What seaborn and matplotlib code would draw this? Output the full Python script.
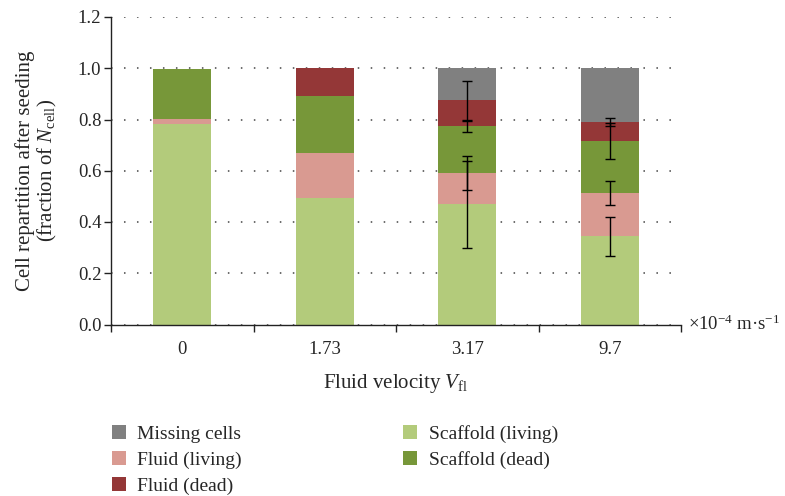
import numpy as np
import pandas as pd
import matplotlib
matplotlib.use("Agg")
import matplotlib.pyplot as plt
import seaborn as sns
from matplotlib.patches import Patch

sns.set_style("white")
plt.rcParams['font.family'] = ['Liberation Serif', 'DejaVu Serif']
plt.rcParams['mathtext.fontset'] = 'custom'
plt.rcParams['mathtext.rm'] = 'Liberation Serif'
plt.rcParams['mathtext.it'] = 'Liberation Serif:italic'

# data
velocity = ['0', '1.73', '3.17', '9.7']
scaffold_living = [0.782, 0.493, 0.469, 0.345]
fluid_living = [0.020, 0.176, 0.122, 0.168]
scaffold_dead = [0.196, 0.223, 0.183, 0.203]
fluid_dead = [0.0, 0.108, 0.101, 0.075]
missing = [0.0, 0.0, 0.125, 0.209]
# error bars (only 3.17 and 9.7), one per stacked segment top
err_scaffold_living = [0, 0, 0.170, 0.076]
err_fluid_living = [0, 0, 0.065, 0.048]
err_scaffold_dead = [0, 0, 0.022, 0.070]
err_fluid_dead = [0, 0, 0.075, 0.015]

layers = ['Scaffold (living)', 'Fluid (living)', 'Scaffold (dead)', 'Fluid (dead)', 'Missing cells']
colors = {'Scaffold (living)': '#b3cb7b', 'Fluid (living)': '#d99a91',
          'Scaffold (dead)': '#779739', 'Fluid (dead)': '#943737',
          'Missing cells': '#808080'}

df = pd.DataFrame({'v': velocity, 'Scaffold (living)': scaffold_living,
                   'Fluid (living)': fluid_living, 'Scaffold (dead)': scaffold_dead,
                   'Fluid (dead)': fluid_dead, 'Missing cells': missing})
cum = df[layers].cumsum(axis=1)
cum['v'] = df['v']

fig = plt.figure(figsize=(7.85, 4.96), dpi=100)
ax = fig.add_axes([111/785, 1-324.5/496, 570/785, 307.5/496])

# draw cumulative bars from the top layer down so they stack
for name in layers[::-1]:
    sns.barplot(data=cum, x='v', y=name, color=colors[name], width=0.41,
                saturation=1, linewidth=0, ax=ax, zorder=2)

errs = [err_scaffold_living, err_fluid_living, err_scaffold_dead, err_fluid_dead]
for name, e in zip(layers[:4], errs):
    e = np.array(e)
    m = e > 0
    x = np.arange(len(velocity))[m]
    ax.errorbar(x, cum[name].values[m], yerr=e[m], fmt='none', ecolor='black',
                elinewidth=1.0, capsize=3.3, capthick=1.0, zorder=5)

ax.set_ylim(0, 1.2)
ax.set_xlim(-0.5, 3.5)
ax.set_yticks(np.arange(0, 1.21, 0.2))
ax.set_yticklabels([f'{t:.1f}' for t in np.arange(0, 1.21, 0.2)])
ax.set_xticks([-0.5, 0.5, 1.5, 2.5, 3.5])
ax.set_xticklabels([])
ax.set_xticks(range(len(velocity)), minor=True)
ax.set_xticklabels(velocity, minor=True)
ax.tick_params(axis='x', which='major', direction='out', length=5, width=1, color='#222222', bottom=True)
ax.tick_params(axis='x', which='minor', length=0, pad=12, labelsize=13.5)
ax.tick_params(axis='y', direction='out', length=5, width=1, color='#222222', left=True, labelsize=13.5, pad=2)

ax.set_axisbelow(True)
ax.yaxis.grid(True, linestyle=(0, (1, 7.5)), color='#444444', linewidth=1.1)
ax.xaxis.grid(False)
sns.despine(ax=ax)
for s in ['left', 'bottom']:
    ax.spines[s].set_color('#222222')
    ax.spines[s].set_linewidth(1)

ax.set_xlabel(r'Fluid velocity $V_{\mathrm{fl}}$', fontsize=15)
ax.xaxis.set_label_coords(0.5, -0.155)
ax.set_ylabel('Cell repartition after seeding\n' + r'(fraction of $N_{\mathrm{cell}}$)',
              fontsize=15, linespacing=1.05)
ax.yaxis.set_label_coords(-0.091, 0.5)
ax.text(1.012, 0.0, r'×10$^{-4}$ m·s$^{-1}$', transform=ax.transAxes,
        ha='left', va='center', fontsize=13.5, clip_on=False)

order = ['Missing cells', 'Fluid (living)', 'Fluid (dead)', 'Scaffold (living)', 'Scaffold (dead)']
handles = [Patch(facecolor=colors[n], edgecolor='none', label=n) for n in order]
fig.legend(handles=handles, ncol=2, loc='upper left', bbox_to_anchor=(111.5/785, 1-425/496),
           frameon=False, fontsize=14, handlelength=0.72, handleheight=0.72,
           handletextpad=0.6, columnspacing=8.3, labelspacing=0.42, borderpad=0,
           borderaxespad=0)

fig.savefig('out.png', dpi=100)
